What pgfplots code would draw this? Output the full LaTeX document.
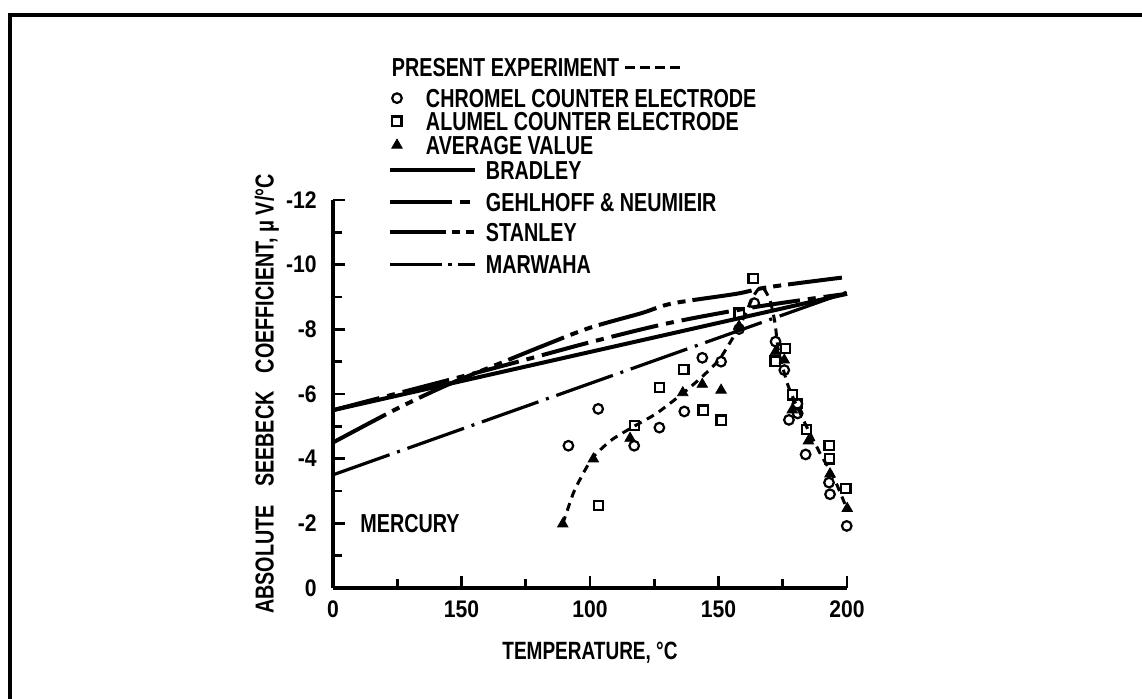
\documentclass[border=0pt]{standalone}
\usepackage{pgfplots}
\pgfplotsset{compat=1.18}
\usepackage{fontspec}
\setmainfont{Liberation Sans}[FakeStretch=0.76]
\newfontfamily\tickfont{Liberation Sans}[FakeStretch=0.88]

\pgfplotsset{
  legline/.style={legend image code/.code={\draw[##1] (0pt,0pt) -- (42.5pt,0pt);}},
  legmark/.style={legend image code/.code={\draw[##1] plot coordinates {(3.5pt,0pt)};}},
}
\newcommand{\dashes}{\hspace{3pt}\rule[3.8pt]{5pt}{1.6pt}\hspace{2.5pt}\rule[3.8pt]{5pt}{1.6pt}\hspace{2.5pt}\rule[3.8pt]{5pt}{1.6pt}\hspace{2.5pt}\rule[3.8pt]{5pt}{1.6pt}}

\begin{document}
\begin{tikzpicture}
\useasboundingbox (0pt,0pt) rectangle (571pt,349pt);
\draw[line width=2.2pt] (5pt,-2pt) -- (5pt,341.5pt) -- (575pt,341.5pt);
\begin{axis}[
  at={(166.5pt,55pt)}, anchor=south west,
  scale only axis, width=257pt, height=194pt,
  xmin=0, xmax=200, ymin=-12, ymax=0, y dir=reverse,
  axis x line*=bottom, axis y line*=left,
  axis line style={line width=2pt, -},
  clip=false,
  tick align=inside,
  major tick length=6pt, minor tick length=4.5pt,
  every tick/.style={black, line width=1.3pt},
  xtick={0,50,100,150,200}, xticklabels={0,150,100,150,200},
  ytick={-12,-10,-8,-6,-4,-2,0}, yticklabels={-12,-10,-8,-6,-4,-2,0},
  minor x tick num=1, minor y tick num=1,
  tick label style={font=\tickfont\bfseries\fontsize{12}{14}\selectfont},
  xticklabel style={inner sep=0pt, yshift=-6pt},
  yticklabel style={inner sep=0pt, xshift=-8pt},
  label style={font=\bfseries\fontsize{13}{15}\selectfont},
  xlabel style={font=\bfseries\fontsize{12.5}{15}\selectfont, yshift=-9pt},
  xlabel={TEMPERATURE, °C},
  ylabel={ABSOLUTE\hspace{0.7em}SEEBECK\hspace{0.7em}COEFFICIENT, μ V/°C},
  legend cell align=left,
  legend style={at={(axis description cs:0.107,1.394)}, anchor=north west,
    draw=none, fill=none, inner sep=0pt, outer sep=0pt,
    row sep=0pt, column sep=4.5pt,
    nodes={inner sep=0pt, outer sep=0pt, text depth=},
    font=\bfseries\fontsize{13}{15}\selectfont},
]

% Bradley
\addplot[forget plot, black, line width=2pt] coordinates {(0,-5.5) (200,-9.1)};
% Gehlhoff & Neumieir
\addplot[forget plot, black, line width=2pt, dash pattern=on 24pt off 4pt on 4pt off 4pt, smooth]
  coordinates {(0,-5.5) (65,-6.85) (100,-7.6) (131,-8.2) (165,-8.7) (200,-9.1)};
% Stanley
\addplot[forget plot, black, line width=2pt, dash pattern=on 30pt off 3.5pt on 4pt off 3.5pt on 4pt off 3.5pt, smooth]
  coordinates {(0,-4.5) (25,-5.55) (45,-6.3) (65,-6.95) (82,-7.5) (100,-8.05) (120,-8.5) (132,-8.8) (157,-9.1) (169,-9.3) (198,-9.6)};
% Marwaha
\addplot[forget plot, black, line width=1.6pt, dash pattern=on 30pt off 4pt on 1.5pt off 4pt]
  coordinates {(0,-3.5) (200,-9.15)};
% Present experiment
\addplot[forget plot, black, line width=1.5pt, dash pattern=on 4pt off 3pt, smooth, tension=0.4]
  coordinates {(89.4,-1.98) (93.5,-2.93) (97.4,-3.55) (101.3,-4.06) (108.4,-4.58) (116.9,-4.99)
    (125.9,-5.40) (136.1,-6.02) (143.7,-6.54) (150.6,-7.1) (158.4,-8.13) (163.5,-9.01)
    (166.8,-9.32) (170.0,-8.91) (172.0,-8.19) (173.3,-7.36) (177.2,-6.23) (183.0,-5.20)
    (189.5,-4.17) (194.7,-3.44) (199.9,-2.46)};

% Chromel counter electrode
\addplot[forget plot, only marks, mark=o, mark size=2.4pt, mark options={line width=1.1pt, black}]
  coordinates {(91.6,-4.40) (103.2,-5.54) (117.2,-4.40) (127.0,-4.96) (136.7,-5.46) (143.7,-7.12)
    (151.0,-7.0) (158.0,-8.01) (163.9,-8.81) (172.2,-7.62) (175.6,-6.74) (177.4,-5.20)
    (180.7,-5.70) (180.8,-5.40) (183.9,-4.13) (193.0,-3.26) (193.4,-2.90) (199.9,-1.92)};
% Alumel counter electrode
\addplot[forget plot, only marks, mark=square, mark size=2.3pt, mark options={line width=1.1pt, black}]
  coordinates {(103.2,-2.55) (117.2,-5.02) (127.0,-6.20) (136.5,-6.75) (144.0,-5.50) (151.0,-5.19)
    (158.0,-8.50) (163.5,-9.58) (172.0,-7.02) (176.1,-7.41) (178.7,-5.97) (180.8,-5.70)
    (184.3,-4.91) (193.0,-4.40) (193.3,-3.99) (199.6,-3.08)};
% Average value
\addplot[forget plot, only marks, mark=triangle*, mark size=3pt, mark options={black}]
  coordinates {(89.4,-1.98) (101.3,-3.99) (115.6,-4.63) (136.1,-6.04) (143.7,-6.30) (151.0,-6.12)
    (158.0,-8.10) (172.2,-7.31) (175.6,-7.05) (178.7,-5.51) (185.0,-4.55) (193.4,-3.53) (200.1,-2.46)};

\node[anchor=west, inner sep=0pt, font=\bfseries\fontsize{13}{15}\selectfont] at (axis cs:10.5,-2) {MERCURY};

\addlegendimage{empty legend}
\addlegendentry{\raisebox{0pt}[14.65pt][5.35pt]{\hspace*{-47pt}PRESENT EXPERIMENT\dashes}}
\addlegendimage{only marks, mark=o, mark size=2.4pt, mark options={line width=1.1pt, black}, legmark}
\addlegendentry{\raisebox{0pt}[10.15pt][0.85pt]{\hspace*{-30pt}CHROMEL COUNTER ELECTRODE}}
\addlegendimage{only marks, mark=square, mark size=2.3pt, mark options={line width=1.1pt, black}, legmark}
\addlegendentry{\raisebox{0pt}[10.65pt][1.35pt]{\hspace*{-30pt}ALUMEL COUNTER ELECTRODE}}
\addlegendimage{only marks, mark=triangle*, mark size=3pt, mark options={black}, legmark}
\addlegendentry{\raisebox{0pt}[10.65pt][1.35pt]{\hspace*{-30pt}AVERAGE VALUE}}
\addlegendimage{black, line width=2pt, legline}
\addlegendentry{\raisebox{0pt}[11.15pt][1.85pt]{BRADLEY}}
\addlegendimage{black, line width=2pt, dash pattern=on 31pt off 4pt on 5pt off 4pt, legline}
\addlegendentry{\raisebox{0pt}[14.15pt][4.85pt]{GEHLHOFF \& NEUMIEIR}}
\addlegendimage{black, line width=2pt, dash pattern=on 28pt off 3pt on 4pt off 3pt on 4pt off 3pt, legline}
\addlegendentry{\raisebox{0pt}[10.15pt][0.85pt]{STANLEY}}
\addlegendimage{black, line width=1.6pt, dash pattern=on 26pt off 3pt on 2pt off 3pt, legline}
\addlegendentry{\raisebox{0pt}[15.15pt][5.85pt]{MARWAHA}}
\end{axis}
\end{tikzpicture}
\end{document}
